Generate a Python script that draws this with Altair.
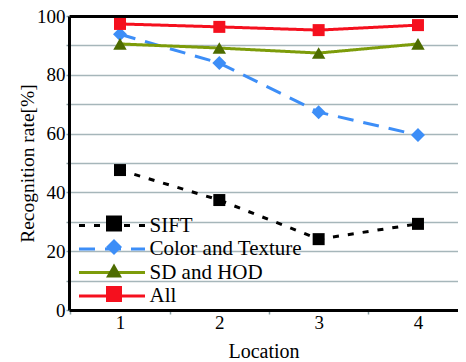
import altair as alt
import pandas as pd

# ---- data ----
locations = [1, 2, 3, 4]
series_names = ["SIFT", "Color and Texture", "SD and HOD", "All"]
sift = [47.6, 37.4, 24.1, 29.3]
color_texture = [93.8, 84.0, 67.3, 59.5]
sd_hod = [90.5, 89.1, 87.4, 90.5]
all_features = [97.3, 96.3, 95.2, 96.9]

# ---- styles ----
line_colors = ["#000000", "#3d8ef7", "#7d9c0a", "#f5101e"]
fill_colors = ["#000000", "#3d8ef7", "#4e6c00", "#f5101e"]
dashes = [[6, 9], [16, 10], [1, 0], [1, 0]]
shapes = ["square", "diamond", "triangle-up", "square"]
marker_sizes = [144, 196, 180, 144]
point_keys = ["pt-" + n for n in series_names]

rows = []
for name, key, msize, vals in zip(series_names, point_keys, marker_sizes,
                                  [sift, color_texture, sd_hod, all_features]):
    for loc, v in zip(locations, vals):
        rows.append({"series": name, "key": key, "msize": msize, "location": loc, "rate": v})
df = pd.DataFrame(rows)

FONT = "Liberation Serif, Times New Roman, DejaVu Serif, serif"
GRID = "#a6b6ba"

x_axis = alt.Axis(
    values=[0.5, 1, 1.5, 2, 2.5, 3, 3.5, 4],
    labelExpr="datum.value % 1 == 0 ? format(datum.value, 'd') : ''",
    tickOpacity={"condition": {"test": "datum.value % 1 == 0", "value": 0}, "value": 1},
    tickColor="#8aa0a4", tickSize=4, tickWidth=1.5,
    domainColor="black", domainWidth=3,
    grid=False,
    labelFont=FONT, labelFontSize=19, labelColor="black", labelPadding=-1,
    title="Location", titleFont=FONT, titleFontSize=20, titleFontWeight="normal",
    titleColor="black", titlePadding=9,
)
y_axis = alt.Axis(
    values=list(range(0, 101, 10)),
    labelExpr="datum.value % 20 == 0 ? datum.label : ''",
    gridColor={"condition": {"test": "datum.value == 100", "value": "black"}, "value": GRID},
    gridWidth={"condition": {"test": "datum.value == 100", "value": 3}, "value": 1.5},
    tickColor="#8aa0a4", tickSize=3, tickWidth=1.5,
    domainColor="black", domainWidth=3,
    labelFont=FONT, labelFontSize=19, labelColor="black", labelPadding=1,
    title="Recognition rate[%]", titleFont=FONT, titleFontSize=19.5,
    titleFontWeight="normal", titleColor="black", titlePadding=-1,
)

x_enc = alt.X("location:Q", scale=alt.Scale(domain=[0.4866, 4.403], nice=False, zero=False), axis=x_axis)
y_enc = alt.Y("rate:Q", scale=alt.Scale(domain=[0, 100], nice=False), axis=y_axis)

line_legend = alt.Legend(
    title=None, orient="none", legendX=32.5, legendY=199, padding=0,
    symbolType="M-4.125,0H4.125", symbolSize=256, symbolStrokeWidth=3,
    labelFont=FONT, labelFontSize=21, labelColor="black", labelOffset=27,
    rowPadding=1.5, zindex=1,
)
point_legend = alt.Legend(
    title=None, orient="bottom-left", offset=6.5, padding=0, symbolOffset=27.5,
    symbolSize=256, symbolStrokeWidth=0,
    labelFont=FONT, labelFontSize=21, labelColor="black", labelOpacity=0, labelOffset=27,
    rowPadding=1.5, zindex=2,
)

lines = alt.Chart(df).mark_line(strokeWidth=3).encode(
    x=x_enc,
    y=y_enc,
    stroke=alt.Stroke("series:N", scale=alt.Scale(domain=series_names, range=line_colors), legend=line_legend),
    strokeDash=alt.StrokeDash("series:N", scale=alt.Scale(domain=series_names, range=dashes), legend=line_legend),
)

points = alt.Chart(df).mark_point(filled=True, opacity=1).encode(
    x=x_enc,
    y=y_enc,
    fill=alt.Fill("key:N", scale=alt.Scale(domain=point_keys, range=fill_colors), legend=point_legend),
    shape=alt.Shape("key:N", scale=alt.Scale(domain=point_keys, range=shapes), legend=point_legend),
    size=alt.Size("msize:Q", scale=None),
)

chart = alt.layer(lines, points).properties(
    width=389, height=294,
    padding={"left": 61, "top": 8, "right": 0, "bottom": 52},
    autosize="none",
).configure(font=FONT).configure_view(stroke=None)

chart.save("out.html", embed_options={"renderer": "svg", "actions": False})
